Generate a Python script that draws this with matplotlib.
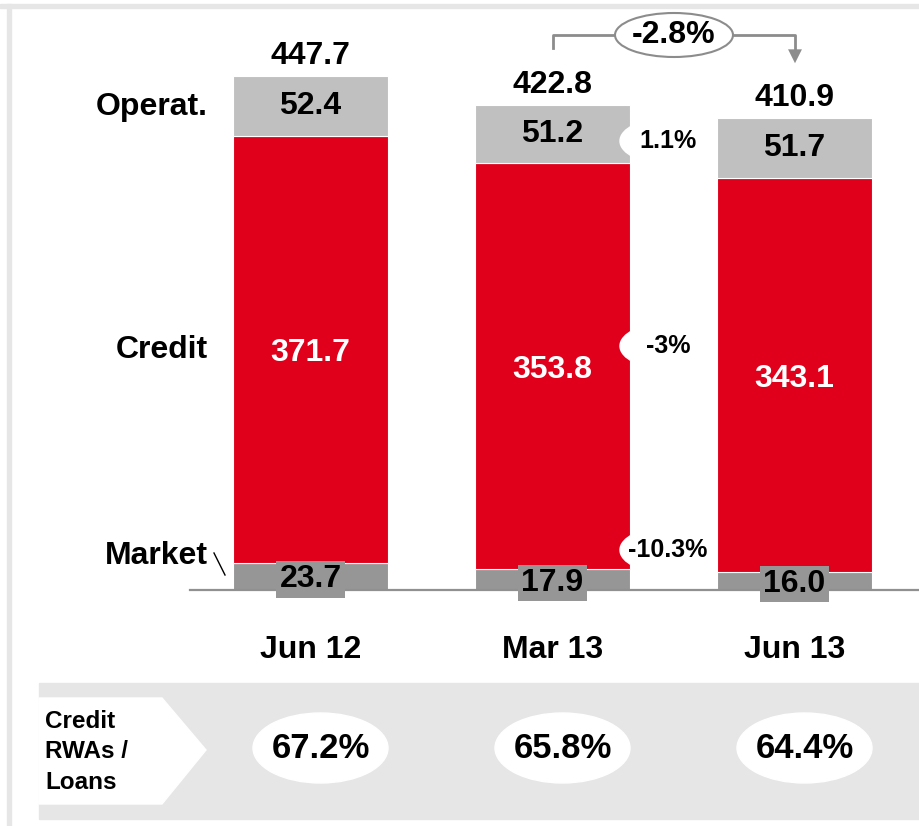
import matplotlib.pyplot as plt
from matplotlib.patches import Ellipse, Polygon, Rectangle

plt.rcParams["font.family"] = ["Liberation Sans", "DejaVu Sans"]
plt.rcParams["font.weight"] = "bold"

periods = ["Jun 12", "Mar 13", "Jun 13"]
market = [23.7, 17.9, 16.0]
credit = [371.7, 353.8, 343.1]
operat = [52.4, 51.2, 51.7]
totals = [447.7, 422.8, 410.9]
qoq_changes = ["1.1%", "-3%", "-10.3%"]   # operat, credit, market (Mar 13 -> Jun 13)
yoy_total = "-2.8%"
rwa_to_loans = ["67.2%", "65.8%", "64.4%"]

RED = "#e0001b"
LIGHT = "#c0c0c0"
DARK = "#969696"

W, H = 919, 826
fig = plt.figure(figsize=(W / 100, H / 100), dpi=100)

# frame strips (top and left)
fig.patches.append(Rectangle((0, 1 - 8 / H), 1, 4 / H, transform=fig.transFigure, color="#e6e6e6"))
fig.patches.append(Rectangle((7 / W, 0), 4 / W, 1 - 4 / H, transform=fig.transFigure, color="#e6e6e6"))

# main axes: category units in x, value units in y
px_x0, px_step = 310.5, 242.0
px_base, px_per = 590.0, 1.148
ax = fig.add_axes([0, 0, 1, 1])
ax.set_xlim(-px_x0 / px_step, (W - px_x0) / px_step)
ax.set_ylim(-(H - px_base) / px_per, px_base / px_per)
ax.axis("off")

px2x = lambda p: (p - px_x0) / px_step
px2y = lambda p: (px_base - p) / px_per

x = range(len(periods))
bw = 155 / px_step
ax.bar(x, market, bw, color=DARK, edgecolor="white", linewidth=0.8, zorder=2)
ax.bar(x, credit, bw, bottom=market, color=RED, edgecolor="white", linewidth=0.8, zorder=2)
bot2 = [m + c for m, c in zip(market, credit)]
ax.bar(x, operat, bw, bottom=bot2, color=LIGHT, edgecolor="white", linewidth=0.8, zorder=2)

# baseline
ax.plot([px2x(190), ax.get_xlim()[1]], [0, 0], color="#909090", lw=1.6, zorder=3)

for i in x:
    ax.text(i, totals[i] + 12 / px_per, f"{totals[i]:.1f}", ha="center", va="baseline", fontsize=23)
    ax.text(i, bot2[i] + operat[i] / 2, f"{operat[i]:.1f}", ha="center", va="center", fontsize=23)
    ax.text(i, market[i] + credit[i] / 2 - 4 / px_per, f"{credit[i]:.1f}", ha="center", va="center",
            fontsize=23, color="white")
    ax.text(i, market[i] / 2 - 3 / px_per, f"{market[i]:.1f}", ha="center", va="center",
            fontsize=23, zorder=4, bbox=dict(boxstyle="square,pad=0.1", fc=DARK, ec="none"))
    ax.text(i, px2y(650), periods[i], ha="center", va="center", fontsize=23)

# segment names on the left
lx = px2x(208)
ax.text(lx, px2y(107), "Operat.", ha="right", va="center", fontsize=23)
ax.text(lx, px2y(350), "Credit", ha="right", va="center", fontsize=23)
ax.text(lx, px2y(556), "Market", ha="right", va="center", fontsize=23)
ax.plot([px2x(214), px2x(225)], [px2y(553), px2y(575)], color="black", lw=1)

# quarter-on-quarter change bubbles (Mar 13 -> Jun 13)
for ypx, lab in zip([141, 346, 550], qoq_changes):
    ax.add_patch(Ellipse((px2x(668), px2y(ypx)), 96 / px_step, 46 / px_per, color="white", zorder=3))
    ax.text(px2x(668), px2y(ypx), lab, ha="center", va="center", fontsize=18, zorder=5)

# year-on-year arrow (Jun 12 -> Jun 13 style link from Mar 13 to Jun 13)
ya = px2y(35)
x1, x2 = px2x(553), px2x(795)
ax.plot([x1, x1, x2, x2], [px2y(48), ya, ya, px2y(52)], color="#8c8c8c", lw=2)
ax.annotate("", xy=(x2, px2y(66)), xytext=(x2, px2y(50)),
            arrowprops=dict(arrowstyle="-|>,head_width=0.5,head_length=1.0",
                            color="#8c8c8c", lw=0))
xm = px2x(674)
ax.add_patch(Ellipse((xm, ya), 118 / px_step, 44 / px_per, fc="white", ec="#8c8c8c", lw=1.5, zorder=4))
ax.text(xm, ya, yoy_total, ha="center", va="center", fontsize=23, zorder=5)

# bottom panel: credit RWAs / loans
p_top, p_bot = px2y(683), px2y(819)
ax.add_patch(Rectangle((px2x(39), p_bot), px2x(W) - px2x(39), p_top - p_bot, color="#e6e6e6", zorder=1))
w_top, w_bot, w_mid = px2y(698), px2y(804), px2y(750)
ax.add_patch(Polygon([(px2x(39), w_top), (px2x(162), w_top), (px2x(206), w_mid),
                      (px2x(162), w_bot), (px2x(39), w_bot)], color="white", zorder=2))
ax.text(px2x(45), px2y(752), "Credit\nRWAs /\nLoans", ha="left", va="center", fontsize=17.5,
        linespacing=1.4, zorder=3)
for i in x:
    cx = i + 10 / px_step
    ax.add_patch(Ellipse((cx, px2y(748)), 135 / px_step, 70 / px_per, color="white", zorder=2))
    ax.text(cx, px2y(748), rwa_to_loans[i], ha="center", va="center", fontsize=25, zorder=3)

fig.savefig("out.png", dpi=100)
